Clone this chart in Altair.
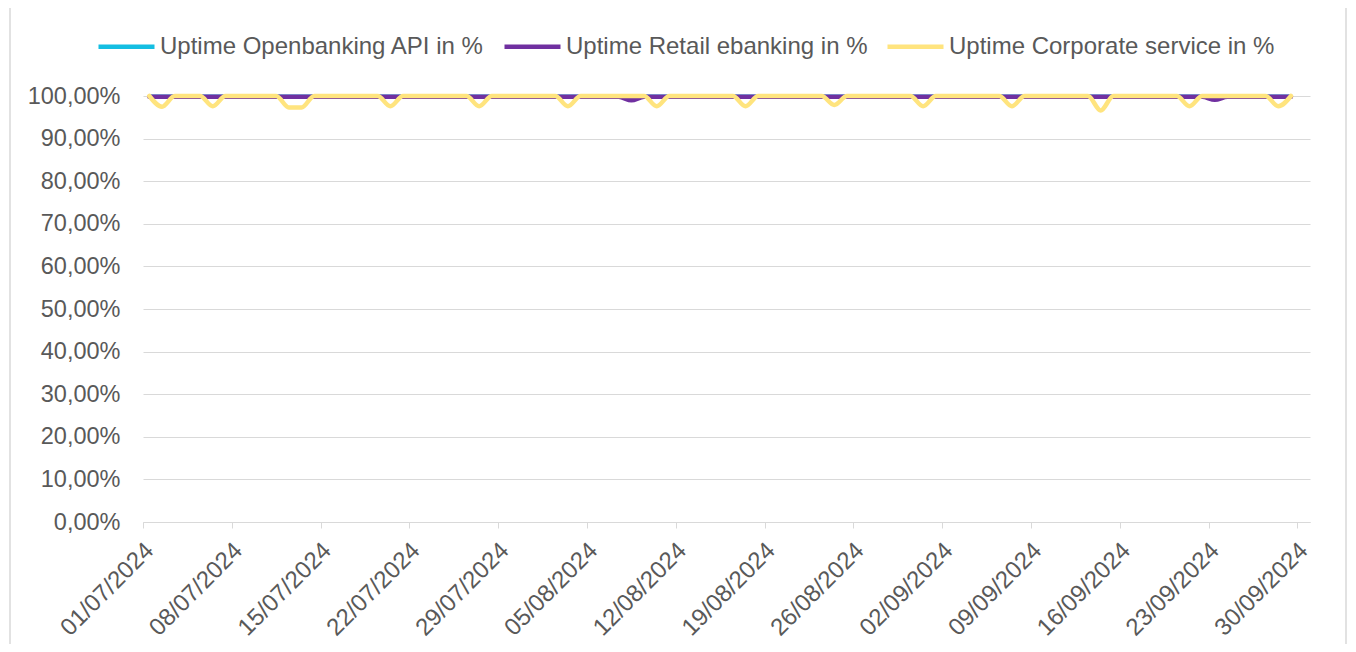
import altair as alt
import pandas as pd

# ---- data ----
dates = [d.strftime("%Y-%m-%d") for d in pd.date_range("2024-07-01", "2024-09-29", freq="D")]

series_names = [
    "Uptime Openbanking API in %",
    "Uptime Retail ebanking in %",
    "Uptime Corporate service in %",
]
series_colors = ["#14BEE2", "#7030A0", "#FFE47E"]

# one row per week (Mon..Sun)
openbanking = [
    100, 100, 100, 100, 100, 100, 100,
    100, 100, 100, 100, 100, 100, 100,
    100, 100, 100, 100, 100, 100, 100,
    100, 100, 100, 100, 100, 100, 100,
    100, 100, 100, 100, 100, 100, 100,
    100, 100, 100, 100, 100, 100, 100,
    100, 100, 100, 100, 100, 100, 100,
    100, 100, 100, 100, 100, 100, 100,
    100, 100, 100, 100, 100, 100, 100,
    100, 100, 100, 100, 100, 100, 100,
    100, 100, 100, 100, 100, 100, 100,
    100, 100, 100, 100, 100, 100, 100,
    100, 100, 100, 100, 100, 100, 100,
]
retail = [
    99.8, 99.8, 99.8, 99.8, 99.8, 99.8, 99.8,
    99.8, 99.8, 99.8, 99.8, 99.8, 99.8, 99.8,
    99.8, 99.8, 99.8, 99.8, 99.8, 99.8, 99.8,
    99.8, 99.8, 99.8, 99.8, 99.8, 99.8, 99.8,
    99.8, 99.8, 99.8, 99.8, 99.8, 99.8, 99.8,
    99.8, 99.8, 99.8, 99.0, 99.8, 99.8, 99.8,
    99.8, 99.8, 99.8, 99.8, 99.8, 99.8, 99.8,
    99.8, 99.8, 99.8, 99.8, 99.8, 99.8, 99.8,
    99.8, 99.8, 99.8, 99.8, 99.8, 99.8, 99.8,
    99.8, 99.8, 99.8, 99.8, 99.8, 99.8, 99.8,
    99.8, 99.8, 99.8, 99.8, 99.8, 99.8, 99.8,
    99.8, 99.8, 99.8, 99.8, 99.8, 99.8, 99.8,
    99.1, 99.8, 99.8, 99.8, 99.8, 99.8, 99.8,
]
corporate = [
    100, 97.5, 100, 100, 100, 97.6, 100,
    100, 100, 100, 100, 97.3, 97.3, 100,
    100, 100, 100, 100, 100, 97.6, 100,
    100, 100, 100, 100, 100, 97.6, 100,
    100, 100, 100, 100, 100, 97.6, 100,
    100, 100, 100, 100, 100, 97.6, 100,
    100, 100, 100, 100, 100, 97.6, 100,
    100, 100, 100, 100, 100, 97.9, 100,
    100, 100, 100, 100, 100, 97.6, 100,
    100, 100, 100, 100, 100, 97.6, 100,
    100, 100, 100, 100, 100, 96.6, 100,
    100, 100, 100, 100, 100, 97.6, 100,
    100, 100, 100, 100, 100, 97.6, 100,
]

tick_dates = [
    (2024, 7, 1), (2024, 7, 8), (2024, 7, 15), (2024, 7, 22), (2024, 7, 29),
    (2024, 8, 5), (2024, 8, 12), (2024, 8, 19), (2024, 8, 26),
    (2024, 9, 2), (2024, 9, 9), (2024, 9, 16), (2024, 9, 23), (2024, 9, 30),
]
y_ticks = [0, 10, 20, 30, 40, 50, 60, 70, 80, 90, 100]

# ---- build table ----
rows = []
for name, vals in zip(series_names, [openbanking, retail, corporate]):
    for d, v in zip(dates, vals):
        rows.append({"date": d + "T12:00:00", "series": name, "value": v})
df = pd.DataFrame(rows)

FONT = "Liberation Sans"
TXT = "#595959"
GRID = "#d9d9d9"

x_enc = alt.X(
    "date:T",
    scale=alt.Scale(domain=[alt.DateTime(year=2024, month=7, date=1),
                            alt.DateTime(year=2024, month=10, date=1)]),
    axis=alt.Axis(
        values=[alt.DateTime(year=y, month=m, date=d) for (y, m, d) in tick_dates],
        format="%d/%m/%Y", labelAngle=-45, labelAlign="right", labelBaseline="top",
        labelOffset=-2, labelPadding=10, tickSize=6, tickColor=GRID, domainColor=GRID,
        domainWidth=1, grid=False, title=None, labelFontSize=24, labelColor=TXT,
        labelFont=FONT, labelOverlap=False, labelBound=False, labelFlush=False,
    ),
)
y_enc = alt.Y(
    "value:Q",
    scale=alt.Scale(domain=[0, 100], nice=False),
    axis=alt.Axis(
        values=y_ticks,
        labelExpr="replace(format(datum.value, '.2f'), '.', ',') + '%'",
        domain=False, ticks=False, grid=True, gridColor=GRID, gridWidth=1,
        labelFontSize=23.5, labelColor=TXT, labelFont=FONT, labelPadding=23, title=None,
    ),
)
color_enc = alt.Color(
    "series:N",
    scale=alt.Scale(domain=series_names, range=series_colors),
    legend=alt.Legend(
        orient="none", legendX=-47, legendY=-80, direction="horizontal", title=None,
        symbolType="stroke", symbolStrokeWidth=4.5, symbolSize=3136,
        labelFontSize=24, labelColor=TXT, labelFont=FONT, columnPadding=10,
        labelOffset=3, labelLimit=0,
    ),
)

base = alt.Chart(df).encode(x=x_enc, y=y_enc, color=color_enc)
widths = [3, 4.5, 4.5]
layers = [
    base.transform_filter(alt.datum.series == name).mark_line(
        interpolate="monotone", strokeWidth=w, strokeCap="round", strokeJoin="round")
    for name, w in zip(series_names, widths)
]

border = alt.Chart(pd.DataFrame({"k": [0]})).mark_rect(
    fill="transparent", stroke=GRID, strokeWidth=1.5
).encode(x=alt.value(-133), x2=alt.value(1203), y=alt.value(-200), y2=alt.value(700))

chart = alt.layer(border, *layers).properties(
    width=1167, height=426,
    autosize=alt.AutoSizeParams(type="none"),
    padding={"left": 135, "top": 88, "right": 38, "bottom": 122},
).configure_view(stroke=None)

chart.save("out.html", embed_options={"renderer": "svg", "actions": False})
